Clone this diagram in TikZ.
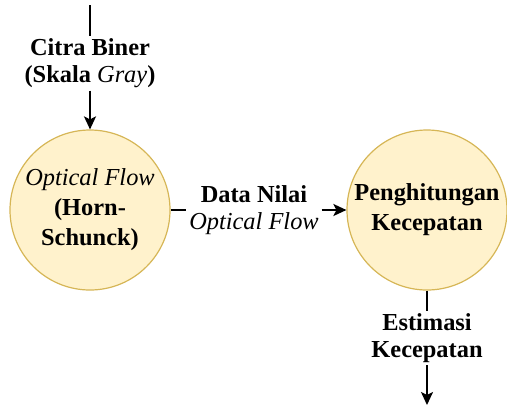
\documentclass[tikz,border=0pt]{standalone}
\usepackage{fontspec}
\newfontfamily\huruf{Liberation Serif}
\usetikzlibrary{shapes,arrows.meta,positioning}
\definecolor{isi}{HTML}{FFF2CC}
\definecolor{tepi}{HTML}{D6B656}

\begin{document}
\begin{tikzpicture}[x=0.5pt,y=-0.5pt,>={Stealth[length=6.5pt,width=6pt,inset=1.5pt]},line width=0.9pt,
                   proses/.style={circle,draw=tepi,fill=isi,line width=0.6pt,minimum size=80pt,inner sep=0pt,align=center,
                                  font=\huruf\fontsize{12.2}{15}\selectfont\bfseries},
                   ket/.style={align=center,inner sep=1pt,font=\huruf\fontsize{12.2}{13.5}\selectfont\bfseries}]
\useasboundingbox (0,0) rectangle (507,408);
\coordinate (atas) at (90,5);
\node[ket] (citra) at (90,63) {Citra Biner\\(Skala {\mdseries\itshape Gray})};
\node[proses] (of) at (90,210) {{\mdseries\itshape Optical Flow}\\(Horn-\\Schunck)};
\node[ket] (data) at (254,210) {Data Nilai\\{\mdseries\itshape Optical Flow}};
\node[proses] (hitung) at (427,210) {Penghitungan\\Kecepatan};
\node[ket] (estimasi) at (427,338) {Estimasi\\Kecepatan};
\coordinate (bawah) at (427,405);

\draw (atas) -- (citra);
\draw[->] (citra) -- (of);
\draw (of) -- (data);
\draw[->] (data) -- (hitung);
\draw (hitung) -- (estimasi);
\draw[->] (estimasi) -- (bawah);
\end{tikzpicture}
\end{document}
